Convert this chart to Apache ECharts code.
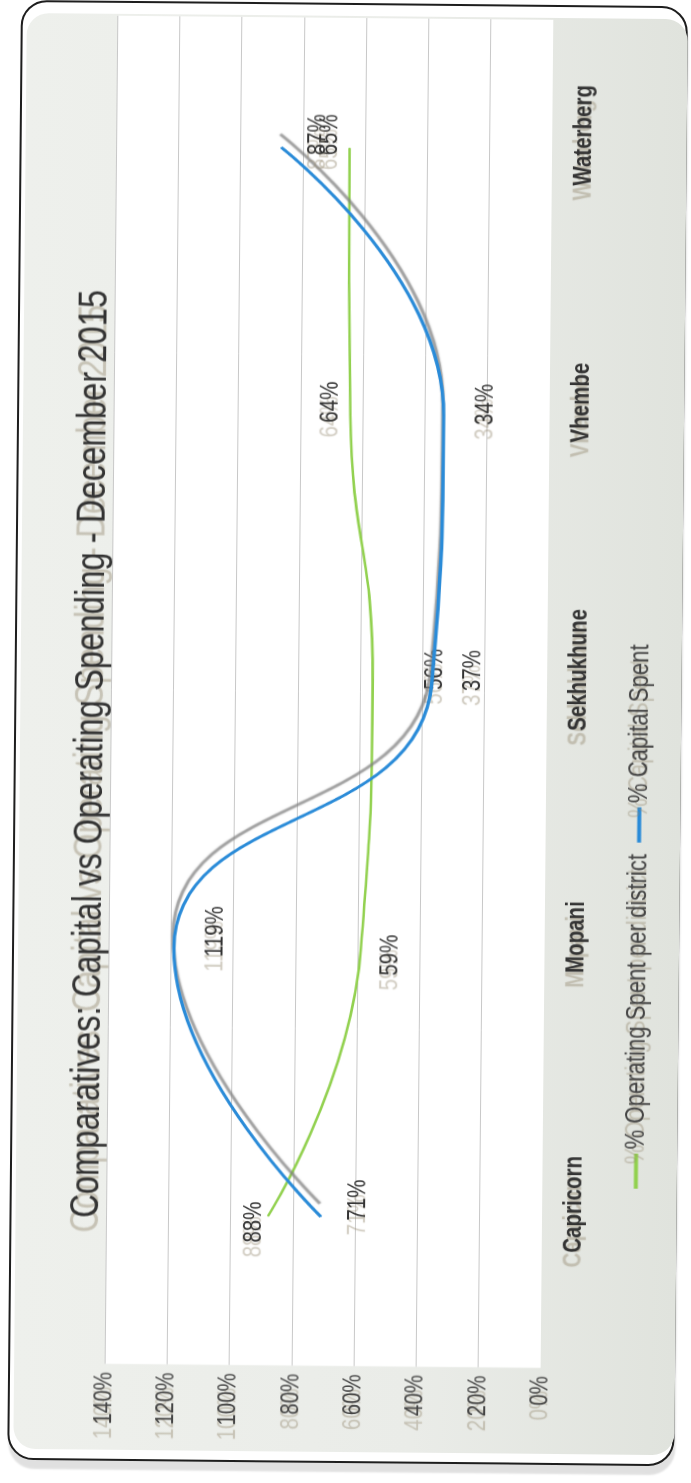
<!DOCTYPE html>
<html>
<head>
<meta charset="utf-8">
<script src="https://cdn.jsdelivr.net/npm/echarts@6/dist/echarts.min.js"></script>
<style>
  html, body { margin:0; padding:0; background:#fff; width:691px; height:1483px; overflow:hidden; }
  #page { position:absolute; left:0; top:0; width:691px; height:1483px; transform: rotate(0.54deg); transform-origin: 345.5px 741.5px; }
  #frame { position:absolute; box-sizing:border-box; left:14px; top:3px; width:667px; height:1460px; border:2px solid #1e1e1e; border-radius:26px; box-shadow: 1px 9px 2px rgba(0,0,0,0.12); background:#fff; }
  #panel { position:absolute; left:20px; top:16px; width:661px; height:1436px; border-radius:22px; background: linear-gradient(to right, #eef0ec 0%, #eaece8 60%, #e0e3dd 100%); }
  #chart { position:absolute; width:1808px; height:691px; left:-558.5px; top:396px; transform: rotate(-89.46deg) scale(0.8202, 1); transform-origin: 50% 50%; }
</style>
</head>
<body>
<div id="page">
  <div id="frame"></div>
  <div id="panel"></div>
</div>
<div id="chart"></div>
<script>
// ---- data ----
const chartTitle = 'Comparatives: Capital vs Operating Spending - December 2015';
const categories = ['Capricorn', 'Mopani', 'Sekhukhune', 'Vhembe', 'Waterberg'];
const operatingName = '% Operating Spent per district';
const capitalName = '% Capital Spent';
const operatingPct = [88, 59, 56, 64, 65];
const capitalPct = [71, 119, 37, 34, 87];
const yMin = 0, yMax = 140, yStep = 20;

// ---- styling / layout (not data) ----
const S = 0.8202;                 // horizontal condensing applied by CSS
const FONT = "'Liberation Sans', Arial, sans-serif";
const ghost = { textShadowColor: 'rgba(150,140,115,0.45)', textShadowOffsetX: -18, textShadowOffsetY: 0, textShadowBlur: 1 };
// label offsets in final pixels [right, down]
const opLabelOffset = [[-6, -14], [-5, 30], [14, 63], [13, -20], [13, -19]];
const capLabelOffset = [[17, 37], [17, 42], [13, 41], [12, 42], [13, 37]];

const chart = echarts.init(document.getElementById('chart'), null, { renderer: 'canvas' });

function buildData(vals, offs) {
  return vals.map((v, i) => ({
    value: [i, v],
    label: { offset: [offs[i][0] / S, offs[i][1]] }
  }));
}

const labelBase = Object.assign({
  show: true, position: 'inside', formatter: p => p.value[1] + '%',
  fontSize: 25, color: '#333', fontFamily: FONT
}, ghost);

const option = {
  backgroundColor: 'transparent',
  animation: false,
  title: {
    text: chartTitle, left: 881, top: 66, textAlign: 'center',
    textStyle: Object.assign({ fontSize: 40, fontWeight: 'normal', color: '#333', fontFamily: FONT }, ghost)
  },
  legend: {
    left: 357, top: 621, itemWidth: 43, itemHeight: 4, itemGap: 14, icon: 'rect',
    data: [operatingName, capitalName],
    textStyle: Object.assign({ fontSize: 27, color: '#444', fontFamily: FONT }, ghost)
  },
  grid: { left: 142.6, right: 21.9, top: 110, bottom: 145, show: true, backgroundColor: '#ffffff', borderWidth: 0, containLabel: false },
  xAxis: {
    type: 'value', min: -0.5575, max: 4.4865,
    axisLine: { show: false }, axisTick: { show: false }, splitLine: { show: false },
    axisLabel: Object.assign({
      customValues: categories.map((c, i) => i),
      formatter: v => categories[Math.round(v)],
      fontSize: 25, fontWeight: 'bold', color: '#333', fontFamily: FONT, margin: 20,
      padding: [0, 0, 0, 36]
    }, ghost)
  },
  yAxis: {
    type: 'value', min: yMin, max: yMax, interval: yStep,
    axisLine: { show: false }, axisTick: { show: false },
    splitLine: { show: true, showMinLine: false, lineStyle: { color: '#c8c8c8', width: 1 } },
    axisLabel: Object.assign({ formatter: '{value}%', fontSize: 25, color: '#444', fontFamily: FONT, margin: 10 }, ghost)
  },
  series: [
    {
      name: operatingName, type: 'line', smooth: 0.5,
      symbol: 'circle', symbolSize: 1, showSymbol: true,
      itemStyle: { color: '#92d14f' },
      lineStyle: { color: '#92d14f', width: 2.6 },
      label: labelBase,
      data: buildData(operatingPct, opLabelOffset),
      z: 2
    },
    {
      name: capitalName, type: 'line', smooth: 0.5,
      symbol: 'circle', symbolSize: 1, showSymbol: true,
      itemStyle: { color: '#2a8bd8' },
      lineStyle: { color: '#2a8bd8', width: 3.4, shadowColor: 'rgba(125,125,125,0.75)', shadowBlur: 1.5, shadowOffsetX: 16, shadowOffsetY: -1 },
      label: labelBase,
      data: buildData(capitalPct, capLabelOffset),
      z: 3
    }
  ]
};
chart.setOption(option);
</script>
</body>
</html>
